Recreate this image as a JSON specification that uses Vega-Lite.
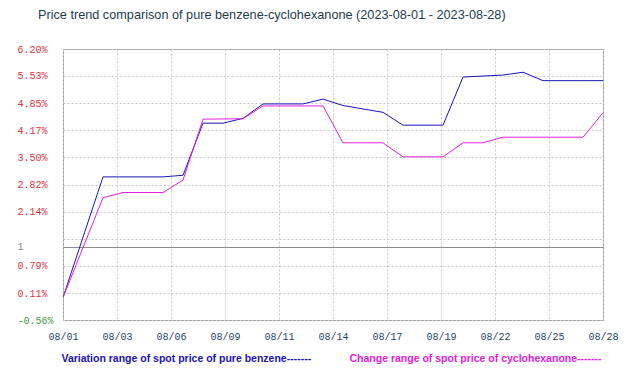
{
  "$schema": "https://vega.github.io/schema/vega-lite/v6.json",
  "width": 540,
  "height": 271,
  "autosize": "none",
  "padding": {"left": 63, "top": 49, "right": 37, "bottom": 56},
  "background": "#ffffff",
  "title": {
    "text": "Price trend comparison of pure benzene-cyclohexanone (2023-08-01 - 2023-08-28)",
    "anchor": "start",
    "frame": "group",
    "dx": -25,
    "offset": 22,
    "font": "Liberation Sans",
    "fontSize": 12.7,
    "fontWeight": "normal",
    "color": "#1c3d4c"
  },
  "data": {
    "values": [
      {"date": "2023-08-01", "series": "Variation range of spot price of pure benzene-------", "value": 0.0},
      {"date": "2023-08-03", "series": "Variation range of spot price of pure benzene-------", "value": 3.01},
      {"date": "2023-08-06", "series": "Variation range of spot price of pure benzene-------", "value": 3.01},
      {"date": "2023-08-07", "series": "Variation range of spot price of pure benzene-------", "value": 3.05},
      {"date": "2023-08-08", "series": "Variation range of spot price of pure benzene-------", "value": 4.35},
      {"date": "2023-08-09", "series": "Variation range of spot price of pure benzene-------", "value": 4.35},
      {"date": "2023-08-10", "series": "Variation range of spot price of pure benzene-------", "value": 4.47},
      {"date": "2023-08-11", "series": "Variation range of spot price of pure benzene-------", "value": 4.83},
      {"date": "2023-08-13", "series": "Variation range of spot price of pure benzene-------", "value": 4.83},
      {"date": "2023-08-14", "series": "Variation range of spot price of pure benzene-------", "value": 4.95},
      {"date": "2023-08-15", "series": "Variation range of spot price of pure benzene-------", "value": 4.79},
      {"date": "2023-08-17", "series": "Variation range of spot price of pure benzene-------", "value": 4.62},
      {"date": "2023-08-18", "series": "Variation range of spot price of pure benzene-------", "value": 4.30},
      {"date": "2023-08-20", "series": "Variation range of spot price of pure benzene-------", "value": 4.30},
      {"date": "2023-08-21", "series": "Variation range of spot price of pure benzene-------", "value": 5.50},
      {"date": "2023-08-23", "series": "Variation range of spot price of pure benzene-------", "value": 5.55},
      {"date": "2023-08-24", "series": "Variation range of spot price of pure benzene-------", "value": 5.62},
      {"date": "2023-08-25", "series": "Variation range of spot price of pure benzene-------", "value": 5.41},
      {"date": "2023-08-28", "series": "Variation range of spot price of pure benzene-------", "value": 5.41},
      {"date": "2023-08-01", "series": "Change range of spot price of cyclohexanone-------", "value": 0.0},
      {"date": "2023-08-03", "series": "Change range of spot price of cyclohexanone-------", "value": 2.49},
      {"date": "2023-08-04", "series": "Change range of spot price of cyclohexanone-------", "value": 2.62},
      {"date": "2023-08-06", "series": "Change range of spot price of cyclohexanone-------", "value": 2.62},
      {"date": "2023-08-07", "series": "Change range of spot price of cyclohexanone-------", "value": 2.93},
      {"date": "2023-08-08", "series": "Change range of spot price of cyclohexanone-------", "value": 4.45},
      {"date": "2023-08-10", "series": "Change range of spot price of cyclohexanone-------", "value": 4.46},
      {"date": "2023-08-11", "series": "Change range of spot price of cyclohexanone-------", "value": 4.78},
      {"date": "2023-08-14", "series": "Change range of spot price of cyclohexanone-------", "value": 4.78},
      {"date": "2023-08-15", "series": "Change range of spot price of cyclohexanone-------", "value": 3.86},
      {"date": "2023-08-17", "series": "Change range of spot price of cyclohexanone-------", "value": 3.86},
      {"date": "2023-08-18", "series": "Change range of spot price of cyclohexanone-------", "value": 3.51},
      {"date": "2023-08-20", "series": "Change range of spot price of cyclohexanone-------", "value": 3.51},
      {"date": "2023-08-21", "series": "Change range of spot price of cyclohexanone-------", "value": 3.86},
      {"date": "2023-08-22", "series": "Change range of spot price of cyclohexanone-------", "value": 3.86},
      {"date": "2023-08-23", "series": "Change range of spot price of cyclohexanone-------", "value": 4.00},
      {"date": "2023-08-27", "series": "Change range of spot price of cyclohexanone-------", "value": 4.00},
      {"date": "2023-08-28", "series": "Change range of spot price of cyclohexanone-------", "value": 4.61}
    ]
  },
  "mark": {"type": "line", "strokeWidth": 1, "clip": true},
  "encoding": {
    "x": {
      "field": "date",
      "type": "temporal",
      "scale": {
        "type": "utc",
        "domain": [
          {"year": 2023, "month": 8, "date": 1, "utc": true},
          {"year": 2023, "month": 8, "date": 28, "utc": true}
        ]
      },
      "axis": {
        "title": null,
        "values": [
          {"year": 2023, "month": 8, "date": 1, "utc": true},
          {"year": 2023, "month": 8, "date": 3, "hours": 16, "minutes": 48, "utc": true},
          {"year": 2023, "month": 8, "date": 6, "hours": 9, "minutes": 36, "utc": true},
          {"year": 2023, "month": 8, "date": 9, "hours": 2, "minutes": 24, "utc": true},
          {"year": 2023, "month": 8, "date": 11, "hours": 19, "minutes": 12, "utc": true},
          {"year": 2023, "month": 8, "date": 14, "hours": 12, "utc": true},
          {"year": 2023, "month": 8, "date": 17, "hours": 4, "minutes": 48, "utc": true},
          {"year": 2023, "month": 8, "date": 19, "hours": 21, "minutes": 36, "utc": true},
          {"year": 2023, "month": 8, "date": 22, "hours": 14, "minutes": 24, "utc": true},
          {"year": 2023, "month": 8, "date": 25, "hours": 7, "minutes": 12, "utc": true},
          {"year": 2023, "month": 8, "date": 28, "utc": true}
        ],
        "format": "%m/%d",
        "domain": false,
        "ticks": false,
        "labelPadding": 11,
        "labelFont": "Liberation Mono",
        "labelFontSize": 10,
        "labelColor": "#1d4668",
        "labelFlush": false,
        "labelOverlap": false,
        "grid": true,
        "gridColor": "#c8c8c8",
        "gridDash": [2, 2]
      }
    },
    "y": {
      "field": "value",
      "type": "quantitative",
      "scale": {"domain": [-0.56, 6.2], "nice": false, "zero": false},
      "axis": {
        "title": null,
        "values": [-0.56, 0.11, 0.79, 1.267, 1.47, 2.14, 2.82, 3.5, 4.17, 4.85, 5.53, 6.2],
        "labelExpr": "abs(datum.value - 1.267) < 0.001 ? '1' : (abs(datum.value - 1.47) < 0.001 ? '' : replace(format(datum.value, '.2f'), '\u2212', '-') + '%')",
        "domain": false,
        "ticks": false,
        "labelAlign": "left",
        "labelPadding": 46,
        "labelFont": "Liberation Mono",
        "labelFontSize": 10,
        "labelFlush": false,
        "labelOverlap": false,
        "labelColor": {
          "condition": [
            {"test": "datum.value < 0", "value": "#3f9a3f"},
            {"test": "abs(datum.value - 1.267) < 0.001", "value": "#8a8a8a"}
          ],
          "value": "#e0323c"
        },
        "grid": true,
        "gridColor": {
          "condition": {"test": "abs(datum.value - 1.267) < 0.001", "value": "#8c8c8c"},
          "value": "#c8c8c8"
        },
        "gridDash": {
          "condition": {"test": "abs(datum.value - 1.267) < 0.001", "value": []},
          "value": [2, 2]
        }
      }
    },
    "color": {
      "field": "series",
      "type": "nominal",
      "sort": null,
      "scale": {
        "domain": ["Variation range of spot price of pure benzene-------", "Change range of spot price of cyclohexanone-------"],
        "range": ["#1a14b4", "#e020e0"]
      },
      "legend": {
        "title": null,
        "orient": "none",
        "legendX": -12,
        "legendY": 305,
        "padding": 0,
        "direction": "horizontal",
        "columns": 2,
        "columnPadding": 27,
        "symbolSize": 0,
        "symbolOpacity": 0,
        "symbolStrokeWidth": 0,
        "labelOffset": 0,
        "labelLimit": 400,
        "labelFont": "Liberation Sans",
        "labelFontSize": 10.5,
        "labelFontWeight": "bold",
        "encode": {
          "labels": {"update": {"fill": {"scale": "color", "field": "value"}}}
        }
      }
    }
  },
  "config": {
    "view": {"stroke": "#9a9a9a", "strokeWidth": 1}
  }
}
